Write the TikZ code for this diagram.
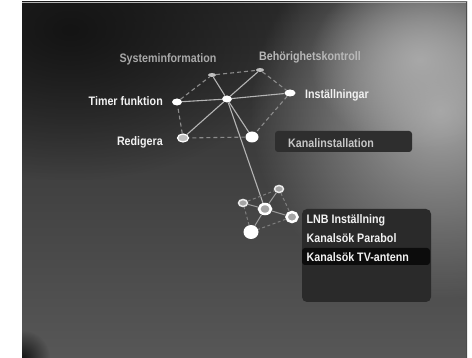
\documentclass[tikz,border=0pt]{standalone}
\usepackage{fontspec}
\setmainfont{Liberation Sans}[FakeStretch=0.87]
\usetikzlibrary{shapes.geometric,fadings}
\definecolor{bgtop}{HTML}{2A2A2A}
\definecolor{bgbot}{HTML}{575757}
\definecolor{spotlt}{HTML}{A8A8A8}
\definecolor{spotdk}{HTML}{141414}
\definecolor{spokec}{HTML}{B4B4B4}
\definecolor{perimc}{HTML}{8C8C8C}
\definecolor{lspokec}{HTML}{9C9C9C}
\definecolor{lperimc}{HTML}{7E7E7E}
\definecolor{ringfill}{HTML}{A4A4A4}
\definecolor{boxc}{HTML}{2E2E2E}
\definecolor{menuc}{HTML}{2A2A2A}
\definecolor{hilite}{HTML}{0C0C0C}
\definecolor{dimtext}{HTML}{A8A8A8}
\definecolor{midtext}{HTML}{B8B8B8}
\definecolor{kantext}{HTML}{C6C6C6}
\definecolor{brighttext}{HTML}{F2F2F2}
\tikzfading[name=spot, inner color=transparent!0, outer color=transparent!100]
\begin{document}
\begin{tikzpicture}[x=1pt,y=-1pt,
  osd/.style={font=\fontsize{12.3}{14}\selectfont\bfseries, inner sep=0pt},
  dotw/.style={ellipse, fill=white, inner sep=0pt},
  dotg/.style={ellipse, fill=#1, inner sep=0pt},
  ringn/.style={ellipse, draw=white, fill=ringfill, inner sep=0pt, line width=1.5pt},
  spoke/.style={draw=spokec, line width=1.1pt},
  perim/.style={draw=perimc, line width=1.1pt, dash pattern=on 4pt off 3pt},
  lspoke/.style={draw=lspokec, line width=1pt},
  lperim/.style={draw=lperimc, line width=1pt, dash pattern=on 3pt off 2.5pt}]
\useasboundingbox (0,0) rectangle (472,358);
\fill[white] (0,0) rectangle (472,358);
% screen background
\begin{scope}
\clip (22,2) rectangle (467,358);
\shade[top color=bgtop, bottom color=bgbot] (22,2) rectangle (467,358);
\fill[spotdk, path fading=spot] (70,30) ellipse (230 and 150);
\fill[spotlt, path fading=spot] (440,110) ellipse (190 and 190);
\fill[spotlt, path fading=spot] (420,60) ellipse (110 and 90);
\fill[spotdk, path fading=spot] (22,358) ellipse (28 and 28);
\end{scope}
\draw[gray!60, line width=0.8pt] (22,2.4) -- (467,2.4);
\draw[black!70, line width=1pt] (466.5,2) -- (466.5,358);
% Kanalinstallation box
\node[fill=boxc, rounded corners=3pt, minimum width=137pt, minimum height=21pt, inner sep=0pt] (kbox) at (343.5,141.5) {};
% menu box
\node[fill=menuc, rounded corners=5pt, minimum width=129pt, minimum height=93pt, inner sep=0pt] (menu) at (366.5,255.5) {};
\node[fill=hilite, rounded corners=3pt, minimum width=128pt, minimum height=17pt, inner sep=0pt] (hbar) at (366,256.5) {};
% top cluster nodes
\node[dotg=lightgray, minimum width=8pt, minimum height=4pt] (sys) at (212,75) {};
\node[dotg=lightgray, minimum width=8pt, minimum height=4pt] (beh) at (260,70) {};
\node[dotw, minimum width=10pt, minimum height=7pt] (ctr) at (227,99) {};
\node[dotw, minimum width=11pt, minimum height=7pt] (inst) at (290,93) {};
\node[dotw, minimum width=10pt, minimum height=7pt] (timer) at (177,102) {};
\node[ellipse, draw=white, fill=lightgray, line width=1.2pt, inner sep=0pt, minimum width=11pt, minimum height=8pt] (red) at (183,138) {};
\node[dotw, minimum width=13pt, minimum height=11pt] (kan) at (252,137) {};
% lower cluster nodes
\node[ringn, minimum width=9pt, minimum height=7pt, draw=white!85!gray] (la) at (243,203) {};
\node[ringn, minimum width=9pt, minimum height=7pt, draw=white!85!gray] (lb) at (279,189) {};
\node[ringn, line width=2.5pt, minimum width=12pt, minimum height=10pt] (lc) at (265,209) {};
\node[ringn, line width=2.5pt, minimum width=11pt, minimum height=10pt] (ld) at (292,217) {};
\node[dotw, minimum width=15pt, minimum height=14pt] (le) at (251,232) {};
% top cluster connectors
\draw[perim] (sys) -- (beh);
\draw[perim] (beh) -- (inst);
\draw[perim] (inst) -- (kan);
\draw[perim] (kan) -- (red);
\draw[perim] (red) -- (timer);
\draw[perim] (timer) -- (sys);
\draw[spoke] (ctr) -- (sys);
\draw[spoke] (ctr) -- (beh);
\draw[spoke] (ctr) -- (inst);
\draw[spoke] (ctr) -- (timer);
\draw[spoke] (ctr) -- (red);
\draw[spoke] (ctr) -- (kan);
\draw[spoke] (ctr) -- (lc);
% lower cluster connectors
\draw[lperim] (la) -- (lb);
\draw[lperim] (lb) -- (ld);
\draw[lperim] (ld) -- (le);
\draw[lperim] (le) -- (la);
\draw[lspoke] (lc) -- (la);
\draw[lspoke] (lc) -- (lb);
\draw[lspoke] (lc) -- (ld);
\draw[lspoke] (lc) -- (le);
% labels
\node[osd, text=dimtext, anchor=base] (tsys) at (168,63) {Systeminformation};
\node[osd, text=midtext, anchor=base] (tbeh) at (310,61) {Behörighetskontroll};
\node[osd, text=brighttext, anchor=base east] (ttimer) at (163,106) {Timer funktion};
\node[osd, text=brighttext, anchor=base west] (tinst) at (305,98.5) {Inställningar};
\node[osd, text=brighttext, anchor=base east] (tred) at (163,146) {Redigera};
\node[osd, text=kantext, anchor=base west] (tkan) at (288,147.5) {Kanalinstallation};
\node[osd, text=brighttext, anchor=base west] (m1) at (306.5,224) {LNB Inställning};
\node[osd, text=brighttext, anchor=base west] (m2) at (306.5,242.5) {Kanalsök Parabol};
\node[osd, text=brighttext, anchor=base west] (m3) at (306.5,262) {Kanalsök TV-antenn};
\end{tikzpicture}
\end{document}
